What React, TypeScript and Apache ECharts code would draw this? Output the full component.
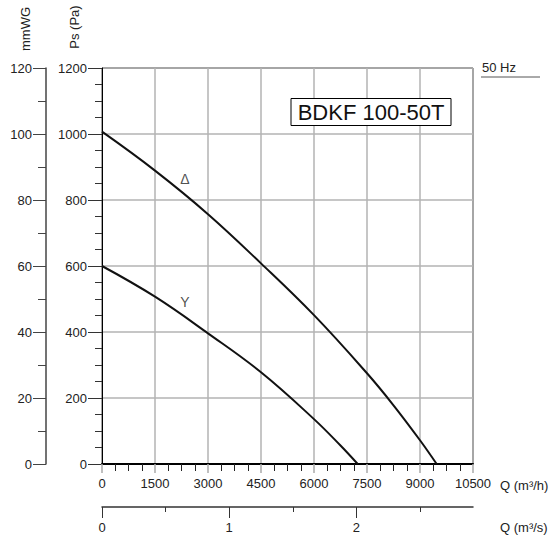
import React, { useEffect, useRef } from "react";
import * as echarts from "echarts";

// Flow (m³/h) / static pressure (Pa) – Δ connection
const deltaQ = [0, 1500, 3000, 4500, 6000, 7500, 8250, 9000, 9472];
const deltaPs = [1007, 889, 757, 608, 451, 275, 178, 72, 0];
// Y connection
const starQ = [0, 1500, 3000, 4500, 6000, 6750, 7237];
const starPs = [600, 507, 396, 278, 136, 56, 0];

// curve annotations [Q, Ps]
const curveLabels = ["Δ", "Y"];
const curveLabelQ = [2349, 2349];
const curveLabelPs = [864, 491];

// tick settings
const qMax = 10500;
const qStep = 1500;
const psMax = 1200;
const psStep = 200;
const mmMax = 120;
const mmStep = 20;
const qsMajor = [0, 1, 2]; // m³/s
const qsMinor = [0.5, 1.5, 2.5];

const FONT = "Liberation Sans, Arial, Helvetica, sans-serif";
const TXT = "#222";

export default function App() {
  const ref = useRef<HTMLDivElement>(null);
  useEffect(() => {
    if (!ref.current) return;
    const chart = echarts.init(ref.current, undefined, { renderer: "svg" });
    const zip = (a: number[], b: number[]) => a.map((v, i) => [v, b[i]]);
    const labelStyle = { fontFamily: FONT, fontSize: 13, color: TXT };
    const plain = (v: number) => String(v);
    chart.setOption({
      animation: false,
      backgroundColor: "#fff",
      grid: {
        left: 102,
        top: 68,
        width: 371,
        height: 396,
        show: true,
        borderColor: "#000",
        borderWidth: 1,
        backgroundColor: "transparent",
      },
      xAxis: [
        {
          type: "value",
          min: 0,
          max: qMax,
          interval: qStep,
          position: "bottom",
          axisLine: { show: true, onZero: false, lineStyle: { color: "#000", width: 2 } },
          axisTick: { show: true, length: 9, lineStyle: { color: "#aaa", width: 1.5 } },
          minorTick: { show: true, splitNumber: 4, length: 7, lineStyle: { color: "#222", width: 1 } },
          axisLabel: { ...labelStyle, margin: 13, formatter: plain },
          splitLine: { show: true, lineStyle: { color: "#b3b3b3", width: 1.5 } },
        },
        {
          type: "value",
          min: 0,
          max: qMax / 3600,
          position: "bottom",
          offset: 43,
          axisLine: { show: true, onZero: false, lineStyle: { color: "#333", width: 1.5 } },
          axisTick: { show: true, length: 11, customValues: qsMajor, lineStyle: { color: "#333", width: 1 } },
          axisLabel: { ...labelStyle, margin: 14, customValues: qsMajor, formatter: plain },
          splitLine: { show: false },
        },
        {
          type: "value",
          min: 0,
          max: qMax / 3600,
          position: "bottom",
          offset: 43,
          axisLine: { show: false, onZero: false },
          axisTick: { show: true, length: 5, customValues: qsMinor, lineStyle: { color: "#333", width: 1 } },
          axisLabel: { show: false },
          splitLine: { show: false },
        },
      ],
      yAxis: [
        {
          type: "value",
          min: 0,
          max: psMax,
          interval: psStep,
          position: "left",
          axisLine: { show: true, onZero: false, lineStyle: { color: "#000", width: 1 } },
          axisTick: { show: true, length: 14, lineStyle: { color: "#333", width: 1 } },
          minorTick: { show: true, splitNumber: 4, length: 7, lineStyle: { color: "#333", width: 1 } },
          axisLabel: { ...labelStyle, margin: 15, formatter: plain },
          splitLine: { show: true, lineStyle: { color: "#b3b3b3", width: 1.5 } },
        },
        {
          type: "value",
          min: 0,
          max: mmMax,
          interval: mmStep,
          position: "left",
          offset: 56,
          axisLine: { show: true, onZero: false, lineStyle: { color: "#444", width: 1.5 } },
          axisTick: { show: true, length: 13, lineStyle: { color: "#444", width: 1 } },
          minorTick: { show: true, splitNumber: 2, length: 8, lineStyle: { color: "#444", width: 1 } },
          axisLabel: { ...labelStyle, margin: 14, formatter: plain },
          splitLine: { show: false },
        },
      ],
      series: [
        {
          type: "line",
          xAxisIndex: 0,
          yAxisIndex: 0,
          data: zip(deltaQ, deltaPs),
          smooth: 0.4,
          showSymbol: false,
          lineStyle: { color: "#111", width: 2 },
          z: 5,
        },
        {
          type: "line",
          xAxisIndex: 0,
          yAxisIndex: 0,
          data: zip(starQ, starPs),
          smooth: 0.4,
          showSymbol: false,
          lineStyle: { color: "#111", width: 2 },
          z: 5,
        },
        {
          type: "scatter",
          xAxisIndex: 0,
          yAxisIndex: 0,
          symbolSize: 1,
          itemStyle: { color: "transparent" },
          data: curveLabels.map((n, i) => ({ name: n, value: [curveLabelQ[i], curveLabelPs[i]] })),
          label: { show: true, position: "inside", formatter: "{b}", ...labelStyle, fontSize: 14 },
          z: 6,
        },
      ],
      graphic: [
        {
          type: "text",
          x: 25,
          y: 29,
          rotation: Math.PI / 2,
          style: { text: "mmWG", font: `13px ${FONT}`, fill: TXT, align: "center", verticalAlign: "middle" },
        },
        {
          type: "text",
          x: 74,
          y: 27,
          rotation: Math.PI / 2,
          style: { text: "Ps (Pa)", font: `13px ${FONT}`, fill: TXT, align: "center", verticalAlign: "middle" },
        },
        {
          type: "text",
          x: 482,
          y: 67,
          style: { text: "50 Hz", font: `13px ${FONT}`, fill: TXT, align: "left", verticalAlign: "middle" },
        },
        {
          type: "line",
          shape: { x1: 481, y1: 77, x2: 540, y2: 77 },
          style: { stroke: "#555", lineWidth: 1 },
        },
        {
          type: "text",
          x: 500,
          y: 485,
          style: { text: "Q (m³/h)", font: `13px ${FONT}`, fill: TXT, align: "left", verticalAlign: "middle" },
        },
        {
          type: "text",
          x: 500,
          y: 527,
          style: { text: "Q (m³/s)", font: `13px ${FONT}`, fill: TXT, align: "left", verticalAlign: "middle" },
        },
        {
          type: "rect",
          shape: { x: 291, y: 98.5, width: 160, height: 27 },
          style: { fill: "#fff", stroke: "#000", lineWidth: 1 },
          z: 10,
        },
        {
          type: "text",
          x: 371,
          y: 112.5,
          style: { text: "BDKF 100-50T", font: `22px ${FONT}`, fill: "#111", align: "center", verticalAlign: "middle" },
          z: 11,
        },
      ],
    });
    return () => chart.dispose();
  }, []);
  return <div ref={ref} style={{ position: "fixed", left: 0, top: 0, width: 556, height: 537 }} />;
}
